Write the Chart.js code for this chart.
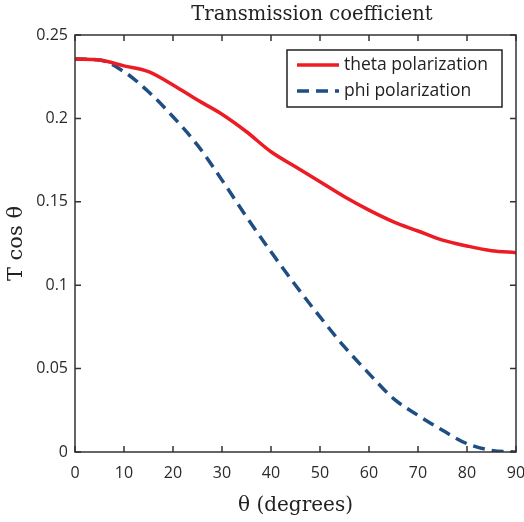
<!DOCTYPE html>
<html>
<head>
<meta charset="utf-8">
<script src="https://cdn.jsdelivr.net/npm/chart.js@4/dist/chart.umd.min.js"></script>
<style>
  html, body { margin: 0; padding: 0; background: #fff; }
  #wrap { width: 524px; height: 522px; }
</style>
</head>
<body>
<div id="wrap"><canvas id="myChart" width="524" height="522"></canvas></div>
<script>
// data
var angles = [0, 5, 10, 15, 20, 25, 30, 35, 40, 45, 50, 55, 60, 65, 70, 75, 80, 85, 90];
var thetaPol = [0.2356, 0.235, 0.2315, 0.228, 0.220, 0.211, 0.2025, 0.192, 0.180, 0.171, 0.162, 0.153, 0.145, 0.138, 0.1325, 0.127, 0.1235, 0.1207, 0.1195];
var phiPol = [0.2356, 0.235, 0.228, 0.216, 0.201, 0.184, 0.163, 0.141, 0.120, 0.100, 0.081, 0.063, 0.047, 0.032, 0.022, 0.013, 0.005, 0.001, 0.000];
var seriesNames = ['theta polarization', 'phi polarization'];
var xTicks = [0, 10, 20, 30, 40, 50, 60, 70, 80, 90];
var yTicks = [0, 0.05, 0.1, 0.15, 0.2, 0.25];

var titleText = 'Transmission coefficient';
var red = '#ec1c24';
var blue = '#1f4e82';
var axisColor = '#333';

function pts(ys) {
  return angles.map(function(a, i) { return {x: a, y: ys[i]}; });
}

// box, inward ticks, title and legend
var frame = {
  id: 'frame',
  afterDraw: function(chart) {
    var ctx = chart.ctx, a = chart.chartArea;
    var xs = chart.scales.x, ys = chart.scales.y;
    ctx.save();
    ctx.strokeStyle = axisColor;
    ctx.lineWidth = 1.5;
    ctx.strokeRect(a.left, a.top, a.right - a.left, a.bottom - a.top);
    var t = 6;
    ctx.beginPath();
    xTicks.forEach(function(v) {
      var px = xs.getPixelForValue(v);
      ctx.moveTo(px, a.bottom); ctx.lineTo(px, a.bottom - t);
      ctx.moveTo(px, a.top); ctx.lineTo(px, a.top + t);
    });
    yTicks.forEach(function(v) {
      var py = ys.getPixelForValue(v);
      ctx.moveTo(a.left, py); ctx.lineTo(a.left + t, py);
      ctx.moveTo(a.right, py); ctx.lineTo(a.right - t, py);
    });
    ctx.stroke();

    // title
    ctx.fillStyle = '#222';
    ctx.font = '19.5px "DejaVu Serif"';
    ctx.textAlign = 'center';
    ctx.textBaseline = 'middle';
    ctx.fillText(titleText, 312, 15);

    // legend
    var lx = 287, ly = 50, lw = 215, lh = 57;
    ctx.fillStyle = '#fff';
    ctx.fillRect(lx, ly, lw, lh);
    ctx.strokeStyle = '#222';
    ctx.lineWidth = 1.5;
    ctx.strokeRect(lx, ly, lw, lh);
    ctx.font = '17.5px "Open Sans"';
    ctx.textAlign = 'left';
    chart.data.datasets.forEach(function(ds, i) {
      var y = ly + 15 + i * 26;
      ctx.strokeStyle = ds.borderColor;
      ctx.lineWidth = ds.borderWidth;
      ctx.setLineDash(ds.borderDash || []);
      ctx.beginPath();
      ctx.moveTo(lx + 10, y); ctx.lineTo(lx + 52, y);
      ctx.stroke();
      ctx.setLineDash([]);
      ctx.fillStyle = '#222';
      ctx.fillText(ds.label, lx + 57, y);
    });
    ctx.restore();
  }
};

var ctx = document.getElementById('myChart').getContext('2d');
var chart = new Chart(ctx, {
  type: 'line',
  data: {
    datasets: [{
      label: seriesNames[0],
      data: pts(thetaPol),
      borderColor: red,
      borderWidth: 3.5,
      pointRadius: 0,
      cubicInterpolationMode: 'monotone',
      fill: false
    }, {
      label: seriesNames[1],
      data: pts(phiPol),
      borderColor: blue,
      borderWidth: 3.5,
      borderDash: [12, 7],
      pointRadius: 0,
      cubicInterpolationMode: 'monotone',
      fill: false
    }]
  },
  options: {
    responsive: false,
    animation: false,
    layout: { padding: { top: 35, right: 8, left: 0, bottom: 0 } },
    plugins: {
      legend: { display: false },
      title: { display: false },
      tooltip: { enabled: false }
    },
    scales: {
      x: {
        type: 'linear',
        min: 0, max: 90,
        afterBuildTicks: function(s) { s.ticks = xTicks.map(function(v) { return {value: v}; }); },
        afterFit: function(s) { s.height = 70; s.paddingLeft = 0; s.paddingRight = 0; },
        grid: { display: false, drawTicks: false },
        border: { display: false },
        ticks: { padding: 12, color: '#2a2a2a', font: { family: 'Open Sans', size: 16 }, maxRotation: 0 },
        title: { display: true, text: 'θ (degrees)', color: '#222', font: { family: 'DejaVu Serif', size: 20 }, padding: { top: 6 } }
      },
      y: {
        min: 0, max: 0.25,
        afterBuildTicks: function(s) { s.ticks = yTicks.map(function(v) { return {value: v}; }); },
        afterFit: function(s) { s.width = 75; s.paddingTop = 0; s.paddingBottom = 0; },
        grid: { display: false, drawTicks: false },
        border: { display: false },
        ticks: {
          padding: 7, color: '#2a2a2a', font: { family: 'Open Sans', size: 16 },
          callback: function(v) { return String(+v.toFixed(2)); }
        },
        title: { display: true, text: 'T cos θ', color: '#222', font: { family: 'DejaVu Serif', size: 21 }, padding: { bottom: 0 } }
      }
    }
  },
  plugins: [frame]
});
</script>
</body>
</html>
